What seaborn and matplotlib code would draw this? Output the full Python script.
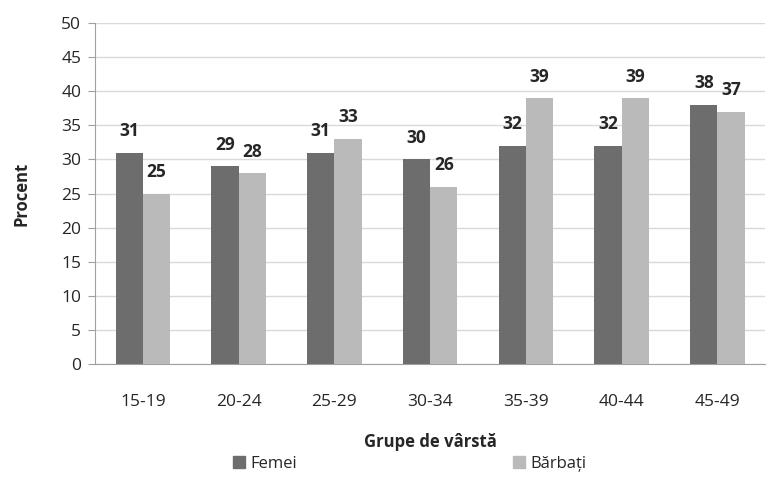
import pandas as pd
import seaborn as sns
import matplotlib.pyplot as plt
from matplotlib.patches import Patch

grupe = ["15-19", "20-24", "25-29", "30-34", "35-39", "40-44", "45-49"]
femei = [31, 29, 31, 30, 32, 32, 38]
barbati = [25, 28, 33, 26, 39, 39, 37]
serii = ["Femei", "Bărbați"]
culori = ["#6d6d6d", "#bababa"]

df = pd.DataFrame({
    "grupa": grupe * 2,
    "procent": femei + barbati,
    "sex": [serii[0]] * len(grupe) + [serii[1]] * len(grupe),
})

sns.set_style("white")
plt.rcParams["font.family"] = ["Open Sans", "DejaVu Sans"]

fig = plt.figure(figsize=(7.73, 4.82), dpi=100)
ax = fig.add_axes([0.123, 0.245, 0.867, 0.707])

sns.barplot(data=df, x="grupa", y="procent", hue="sex", palette=culori,
            width=0.57, ax=ax, legend=False, saturation=1, zorder=3, linewidth=0)

for cont in ax.containers:
    for bar in cont:
        h = bar.get_height()
        ax.annotate(f"{h:.0f}", (bar.get_x() + bar.get_width() / 2, h),
                    xytext=(0, 9), textcoords="offset points",
                    ha="center", va="bottom", fontsize=12.5, fontweight="bold")

ax.set_ylim(0, 50)
ax.set_yticks(range(0, 51, 5))
ax.yaxis.grid(True, color="#d9d9d9", linewidth=1, zorder=0)
ax.set_xlim(-0.5, 6.5)
for s in ["top", "right"]:
    ax.spines[s].set_visible(False)
for s in ["left", "bottom"]:
    ax.spines[s].set_color("#a0a0a0")
ax.tick_params(axis="y", length=5, color="#a0a0a0", labelsize=12.5, pad=5, left=True)
ax.tick_params(axis="x", length=0, labelsize=12.5, pad=22)

ax.set_xlabel("Grupe de vârstă", fontsize=12, fontweight="bold", labelpad=16)
ax.set_ylabel("Procent", fontsize=12, fontweight="bold", labelpad=22)

handles = [Patch(color=c, label=l) for c, l in zip(culori, serii)]
fig.legend(handles=handles, loc="lower center", bbox_to_anchor=(0.53, -0.01),
           ncol=2, frameon=False, fontsize=12, handlelength=0.7, handleheight=0.7,
           handletextpad=0.3, columnspacing=13)

fig.savefig("out.png", dpi=100)
